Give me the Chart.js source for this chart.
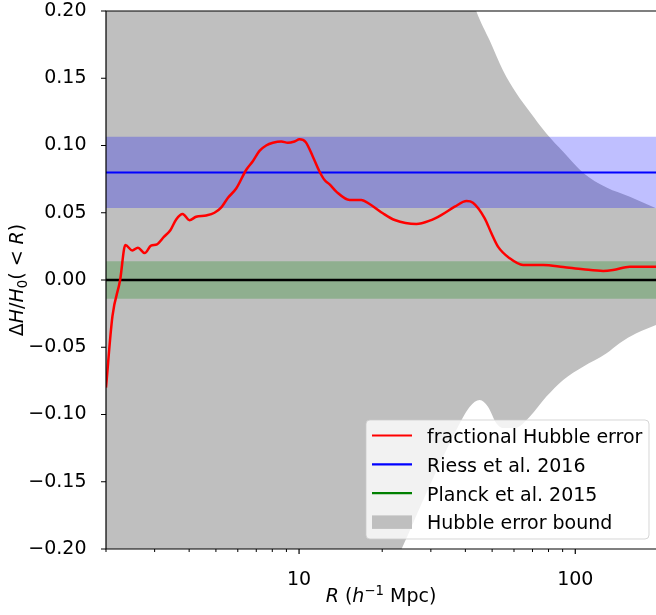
<!DOCTYPE html>
<html>
<head>
<meta charset="utf-8">
<script src="https://cdn.jsdelivr.net/npm/chart.js@4"></script>
<style>
html, body { margin: 0; padding: 0; background: #fff; }
</style>
</head>
<body>
<canvas id="graficoCanvas" width="656" height="615"></canvas>
<script>
// Datos (R en h^-1 Mpc)
const radios = [2.0, 2.11, 2.25, 2.35, 2.49, 2.61, 2.76, 2.91, 3.06, 3.24, 3.42, 3.59, 3.79, 4.01, 4.24, 4.61, 4.94, 5.23, 5.52, 5.92,
    6.44, 6.81, 7.19, 7.6, 8.04, 8.62, 9.11, 9.63, 10.04, 10.56, 11.22, 11.87, 12.37, 12.9, 13.64, 15.24, 16.8, 18.0, 20.1, 22.2,
    26.6, 29.7, 32.7, 36.6, 40.4, 42.6, 47.0, 49.7, 52.5, 57.9, 64.7, 76.5, 90.4, 106.7, 126.2, 137, 157.6, 196];
const errorHubble = [-0.080, -0.027, 0.000, 0.026, 0.022, 0.024, 0.020, 0.0255, 0.0265, 0.032, 0.037, 0.045, 0.049, 0.0445, 0.047, 0.048, 0.050, 0.054, 0.061, 0.068,
    0.082, 0.0885, 0.096, 0.100, 0.102, 0.103, 0.102, 0.103, 0.1046, 0.1026, 0.0917, 0.0805, 0.0743, 0.0711, 0.0657, 0.0595, 0.0595, 0.0565, 0.0496, 0.0446,
    0.0416, 0.0441, 0.0483, 0.0545, 0.0587, 0.0575, 0.0459, 0.0347, 0.0248, 0.0161, 0.0112, 0.0112, 0.0097, 0.008, 0.0067, 0.0074, 0.0099, 0.0099];

// Cota superior e inferior del error de Hubble
const cotaSupR = [2, 30, 40, 43.9, 49, 54.7, 61.2, 68.4, 78.6, 90.4, 106.7, 129.8, 157.6, 196];
const cotaSupVal = [1.0, 0.3, 0.225, 0.1995, 0.178, 0.156, 0.1388, 0.1251, 0.109, 0.0954, 0.0798, 0.0687, 0.0619, 0.0533];
const cotaInfR = [2, 20, 23.5, 29.7, 37.1, 41.5, 45.1, 48.3, 51.8, 54.7, 60.4, 68.4, 78.6, 90.4, 106.7, 129.8, 144.6, 166.4, 196];
const cotaInfVal = [-1.0, -0.23, -0.2, -0.153, -0.1115, -0.0942, -0.0892, -0.0942, -0.1065, -0.110, -0.110, -0.1016, -0.0867, -0.0743, -0.0645, -0.0545, -0.047, -0.0396, -0.0335];

// Riess 2016 y Planck 2015
const riess = 0.08;
const riessError = 0.0265;
const planck = 0.0;
const planckError = 0.014;

// Ejes
const rangoR = [2, 196];
const ticksMayoresX = [10, 100];
const ticksMenoresX = [2, 3, 4, 5, 6, 7, 8, 9, 20, 30, 40, 50, 60, 70, 80, 90];
const ticksY = [-0.2, -0.15, -0.1, -0.05, 0, 0.05, 0.1, 0.15, 0.2];

const leyenda = [
    { texto: 'fractional Hubble error', color: '#ff0000', tipo: 'linea' },
    { texto: 'Riess et al. 2016', color: '#0000ff', tipo: 'linea' },
    { texto: 'Planck et al. 2015', color: '#008000', tipo: 'linea' },
    { texto: 'Hubble error bound', color: '#bfbfbf', tipo: 'caja' }
];

const FUENTE = '"DejaVu Sans", sans-serif';

function puntos(xs, ys) {
    return xs.map((x, i) => ({ x: x, y: ys[i] }));
}

function horizontal(valor) {
    return [{ x: rangoR[0], y: valor }, { x: rangoR[1], y: valor }];
}

function formatoY(v) {
    const s = Math.abs(v).toFixed(2);
    return v < -1e-9 ? '\u2212' + s : s;
}

// Texto con partes en distinta fuente (cursiva, subíndices)
function dibujarTextoRico(ctx, partes, x, y) {
    let total = 0;
    partes.forEach(p => { ctx.font = p.fuente; total += ctx.measureText(p.texto).width; });
    let cx = x - total / 2;
    ctx.textBaseline = 'alphabetic';
    ctx.textAlign = 'left';
    partes.forEach(p => {
        ctx.font = p.fuente;
        ctx.fillText(p.texto, cx, y + (p.dy || 0));
        cx += ctx.measureText(p.texto).width;
    });
}

const normal = '19px ' + FUENTE;
const cursiva = 'italic 19px ' + FUENTE;
const chica = '13.3px ' + FUENTE;

const marcoPlugin = {
    id: 'marco',
    afterDraw(chart) {
        const ctx = chart.ctx;
        const area = chart.chartArea;
        const sx = chart.scales.x;
        const sy = chart.scales.y;
        ctx.save();

        // Bordes
        ctx.strokeStyle = '#000';
        ctx.lineWidth = 1.2;
        ctx.beginPath();
        ctx.moveTo(area.right + 2, area.top);
        ctx.lineTo(area.left, area.top);
        ctx.lineTo(area.left, area.bottom);
        ctx.lineTo(area.right + 2, area.bottom);
        ctx.stroke();

        // Marcas de los ejes
        ctx.beginPath();
        ticksY.forEach(v => {
            const py = sy.getPixelForValue(v);
            ctx.moveTo(area.left, py);
            ctx.lineTo(area.left - 5, py);
        });
        ticksMayoresX.forEach(v => {
            const px = sx.getPixelForValue(v);
            ctx.moveTo(px, area.bottom);
            ctx.lineTo(px, area.bottom + 5);
        });
        ctx.stroke();
        ctx.lineWidth = 1;
        ctx.beginPath();
        ticksMenoresX.forEach(v => {
            const px = sx.getPixelForValue(v);
            ctx.moveTo(px, area.bottom);
            ctx.lineTo(px, area.bottom + 3);
        });
        ctx.stroke();

        // Títulos de los ejes
        ctx.fillStyle = '#000';
        dibujarTextoRico(ctx, [
            { texto: 'R', fuente: cursiva },
            { texto: ' (', fuente: normal },
            { texto: 'h', fuente: cursiva },
            { texto: '\u22121', fuente: chica, dy: -7.5 },
            { texto: ' Mpc)', fuente: normal }
        ], (area.left + area.right) / 2, 602);

        ctx.save();
        ctx.translate(22.5, (area.top + area.bottom) / 2);
        ctx.rotate(-Math.PI / 2);
        dibujarTextoRico(ctx, [
            { texto: '\u0394', fuente: normal },
            { texto: 'H', fuente: cursiva },
            { texto: '/', fuente: normal },
            { texto: 'H', fuente: cursiva },
            { texto: '0', fuente: chica, dy: 4 },
            { texto: '(', fuente: normal },
            { texto: ' < ', fuente: normal },
            { texto: 'R', fuente: cursiva },
            { texto: ')', fuente: normal }
        ], 0, 0);
        ctx.restore();

        // Leyenda
        const lx = 366, ly = 420, lw = 283, lh = 119;
        ctx.beginPath();
        ctx.roundRect(lx, ly, lw, lh, 4);
        ctx.fillStyle = 'rgba(255,255,255,0.8)';
        ctx.fill();
        ctx.strokeStyle = 'rgba(204,204,204,0.8)';
        ctx.lineWidth = 1;
        ctx.stroke();
        leyenda.forEach((item, i) => {
            const cy = 435.5 + i * 28.8;
            if (item.tipo === 'linea') {
                ctx.strokeStyle = item.color;
                ctx.lineWidth = 2.2;
                ctx.beginPath();
                ctx.moveTo(372, cy);
                ctx.lineTo(412, cy);
                ctx.stroke();
            } else {
                ctx.fillStyle = item.color;
                ctx.fillRect(372, cy - 6.5, 40, 13.5);
            }
            ctx.fillStyle = '#000';
            ctx.font = normal;
            ctx.textAlign = 'left';
            ctx.textBaseline = 'alphabetic';
            ctx.fillText(item.texto, 427, cy + 7.5);
        });
        ctx.restore();
    }
};

const lineaBase = { pointRadius: 0, pointHoverRadius: 0, tension: 0, fill: false };
const curvaSuave = { cubicInterpolationMode: 'monotone' };

const chart = new Chart(document.getElementById('graficoCanvas').getContext('2d'), {
    type: 'line',
    data: {
        datasets: [
            { ...lineaBase, ...curvaSuave, label: 'cota sup', data: puntos(cotaSupR, cotaSupVal), borderWidth: 0, borderColor: 'rgba(0,0,0,0)', backgroundColor: '#bfbfbf', fill: '+1', order: 9 },
            { ...lineaBase, ...curvaSuave, label: 'cota inf', data: puntos(cotaInfR, cotaInfVal), borderWidth: 0, borderColor: 'rgba(0,0,0,0)', order: 8 },
            { ...lineaBase, label: 'riess sup', data: horizontal(riess + riessError), borderWidth: 0, borderColor: 'rgba(0,0,0,0)', backgroundColor: 'rgba(0,0,255,0.25)', fill: '+1', order: 7 },
            { ...lineaBase, label: 'riess inf', data: horizontal(riess - riessError), borderWidth: 0, borderColor: 'rgba(0,0,0,0)', order: 6 },
            { ...lineaBase, label: 'planck sup', data: horizontal(planck + planckError), borderWidth: 0, borderColor: 'rgba(0,0,0,0)', backgroundColor: 'rgba(0,128,0,0.25)', fill: '+1', order: 5 },
            { ...lineaBase, label: 'planck inf', data: horizontal(planck - planckError), borderWidth: 0, borderColor: 'rgba(0,0,0,0)', order: 4 },
            { ...lineaBase, label: 'Planck et al. 2015', data: horizontal(planck), borderWidth: 2, borderColor: '#008000', order: 3 },
            { ...lineaBase, label: 'Riess et al. 2016', data: horizontal(riess), borderWidth: 2, borderColor: '#0000ff', order: 2 },
            { ...lineaBase, label: 'cero', data: horizontal(0), borderWidth: 2.5, borderColor: '#000000', order: 1 },
            { ...lineaBase, ...curvaSuave, label: 'fractional Hubble error', data: puntos(radios, errorHubble), borderWidth: 2.5, borderColor: '#ff0000', order: 0 }
        ]
    },
    options: {
        responsive: false,
        animation: false,
        devicePixelRatio: 1,
        layout: { padding: { top: 11, right: 0, left: 0, bottom: 0 } },
        plugins: {
            legend: { display: false },
            tooltip: { enabled: false },
            filler: { drawTime: 'beforeDatasetDraw' }
        },
        scales: {
            x: {
                type: 'logarithmic',
                min: rangoR[0],
                max: rangoR[1],
                grid: { display: false },
                border: { display: false },
                afterBuildTicks: (scale) => {
                    scale.ticks = ticksMayoresX.map(v => ({ value: v, major: true }));
                },
                afterFit: (scale) => {
                    scale.height = 66;
                    scale.paddingLeft = 0;
                    scale.paddingRight = 0;
                },
                ticks: {
                    autoSkip: false,
                    maxRotation: 0,
                    padding: 12,
                    color: '#000',
                    font: { family: FUENTE, size: 19 },
                    callback: (v) => String(v)
                }
            },
            y: {
                min: -0.2,
                max: 0.2,
                grid: { display: false },
                border: { display: false },
                afterBuildTicks: (scale) => {
                    scale.ticks = ticksY.map(v => ({ value: v }));
                },
                afterFit: (scale) => {
                    scale.width = 106;
                    scale.paddingTop = 0;
                    scale.paddingBottom = 0;
                },
                ticks: {
                    autoSkip: false,
                    padding: 11.5,
                    color: '#000',
                    font: { family: FUENTE, size: 19 },
                    callback: (v) => formatoY(v)
                }
            }
        }
    },
    plugins: [marcoPlugin]
});
</script>
</body>
</html>
